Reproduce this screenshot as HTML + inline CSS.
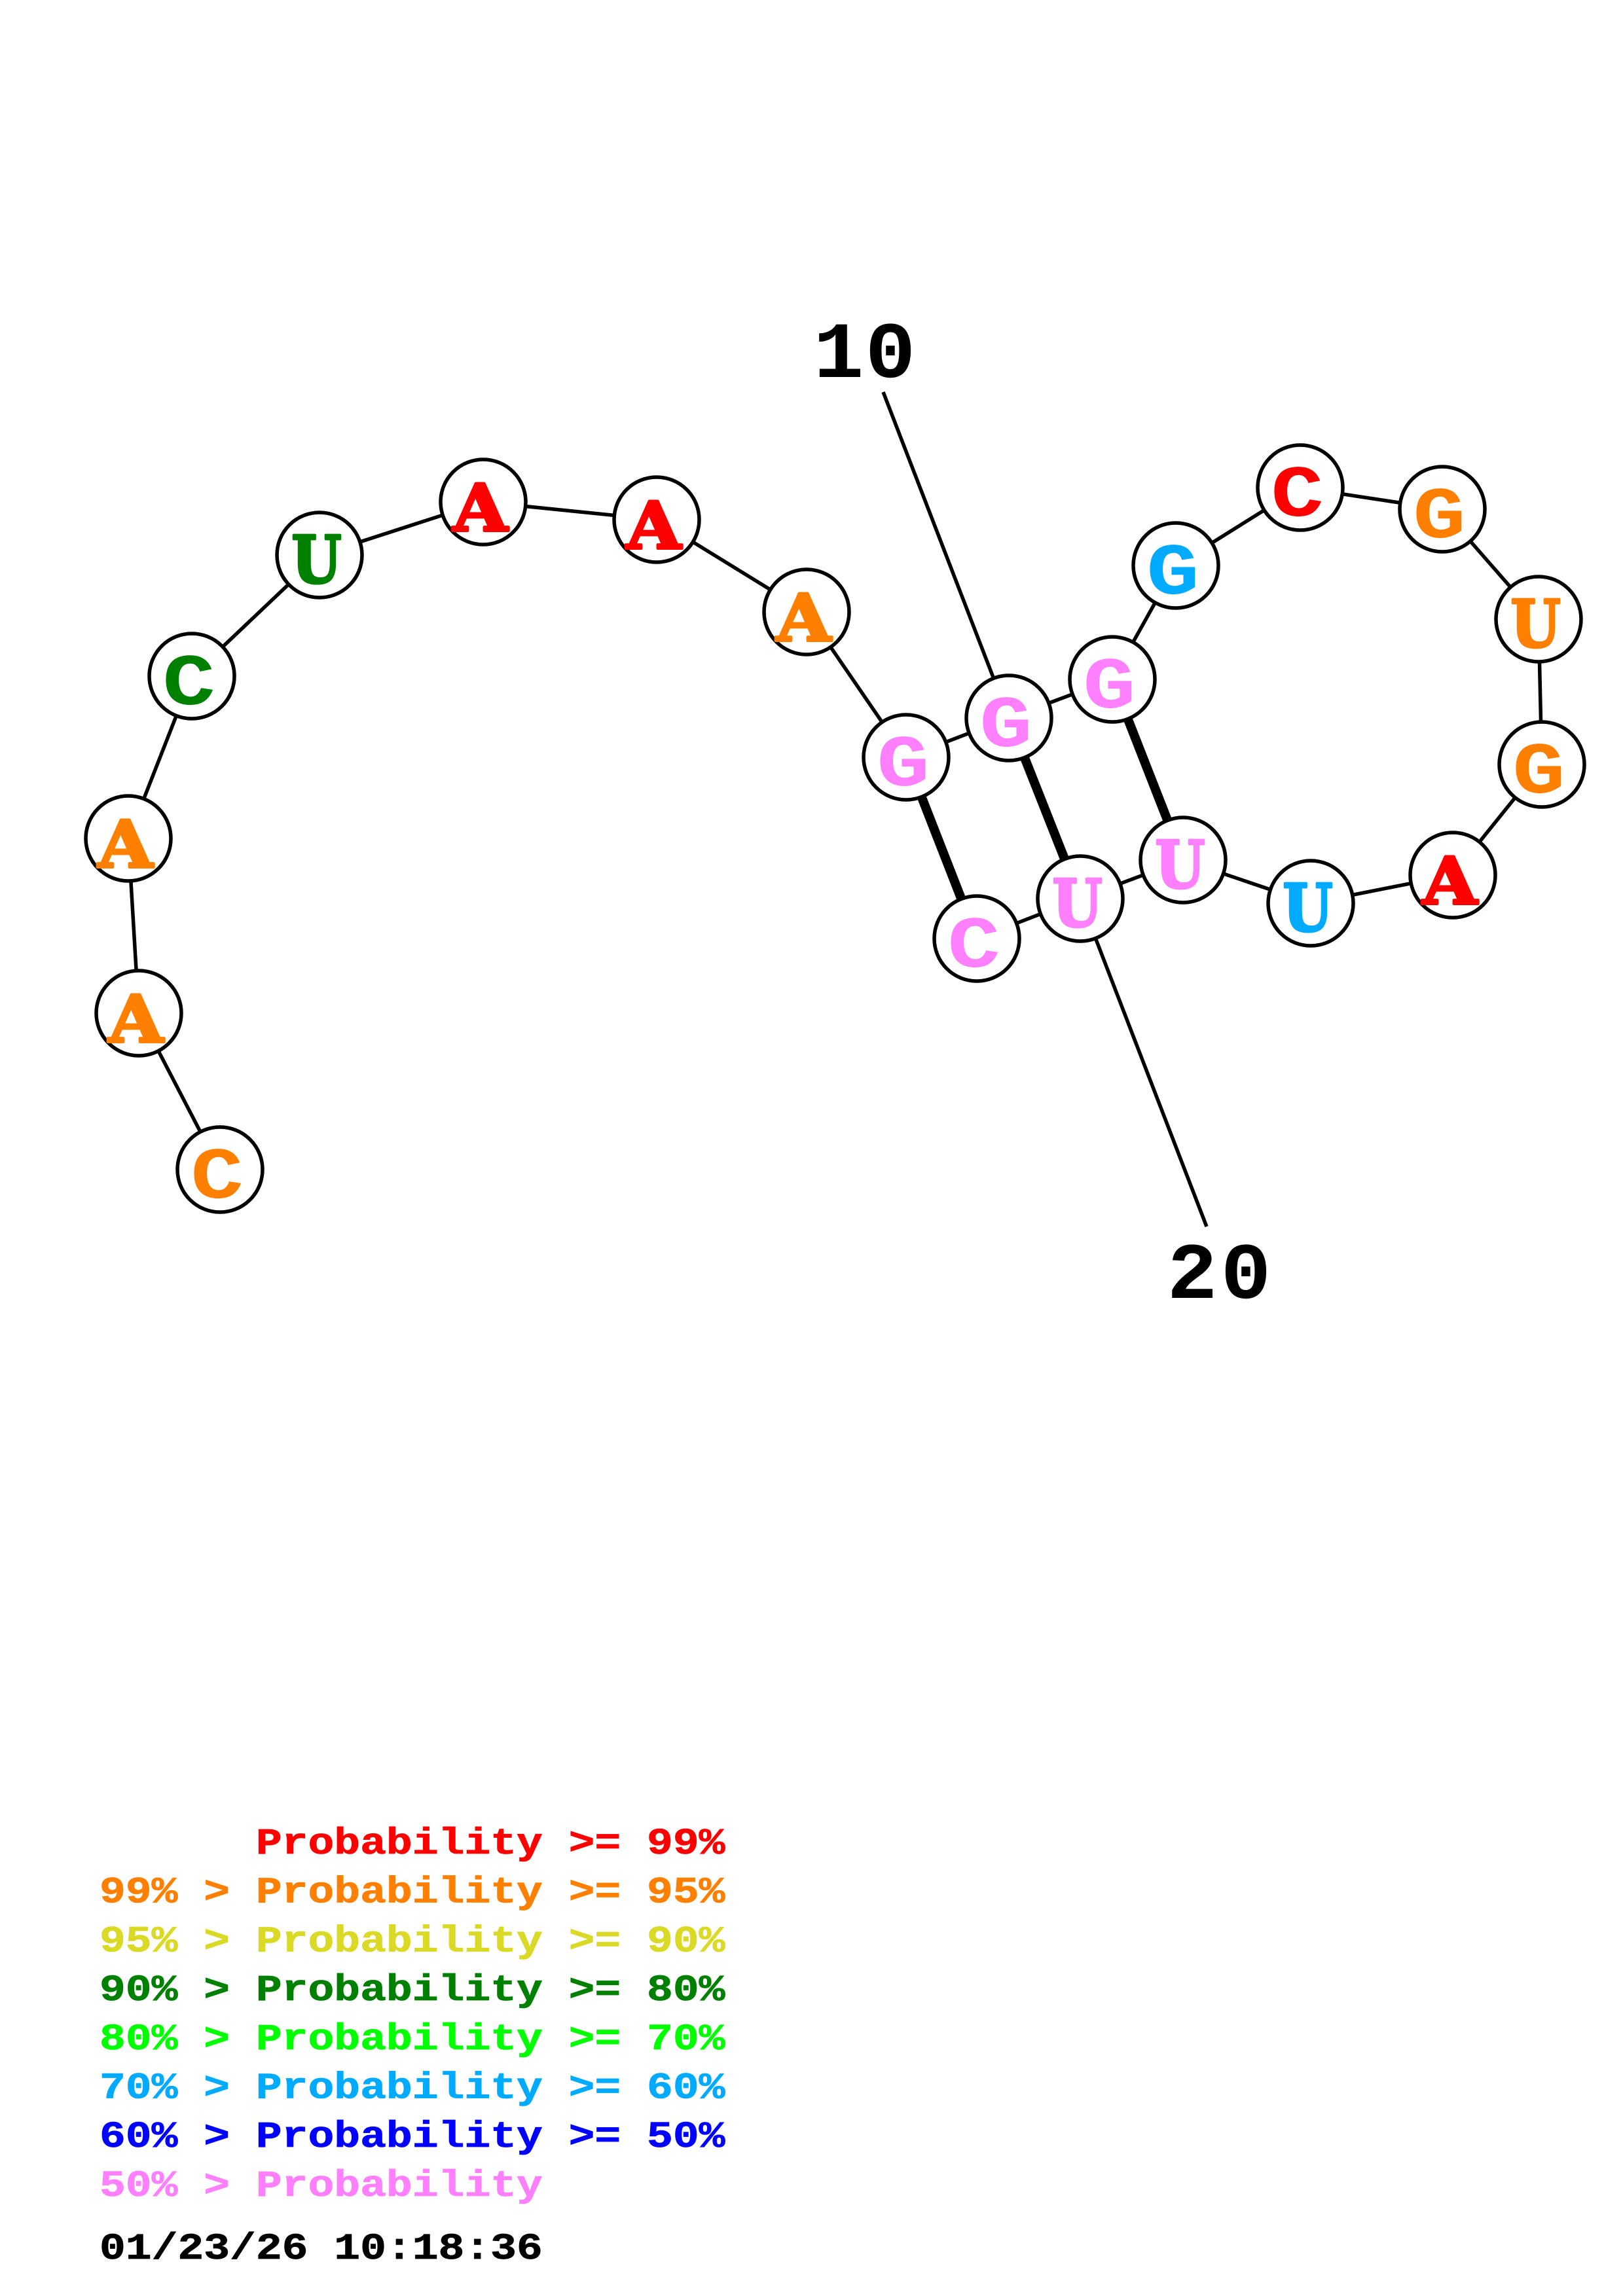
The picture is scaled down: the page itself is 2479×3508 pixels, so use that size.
<!DOCTYPE html>
<html><head><meta charset="utf-8"><style>
html,body{margin:0;padding:0;background:#fff}
svg{display:block}
text{font-family:"Liberation Mono",monospace;font-weight:bold}
text.s{font-family:"DejaVu Serif",serif;font-size:99px;stroke-width:4px;stroke-linejoin:round}
text.a{stroke:currentColor}
</style></head><body>
<svg width="2479" height="3508" viewBox="0 0 2479 3508" xmlns="http://www.w3.org/2000/svg">
<rect width="2479" height="3508" fill="#fff"/>
<polyline fill="none" stroke="#000" stroke-width="5.5" points="336,1787 212,1548 196,1281 293,1033 488,848 738,767 1003,794 1232,935 1384,1157 1541,1097 1699,1038 1796,864 1986,745 2203,778 2350,946 2355,1168 2219,1337 2002,1380 1807,1314 1650,1373 1492,1434"/>
<g stroke="#000" stroke-width="14" fill="none">
<line x1="1384" y1="1157" x2="1492" y2="1434"/>
<line x1="1541" y1="1097" x2="1650" y2="1373"/>
<line x1="1699" y1="1038" x2="1807" y2="1314"/>
</g>
<g stroke="#000" stroke-width="5.5" fill="none">
<line x1="1349" y1="599" x2="1541" y2="1097"/>
<line x1="1650" y1="1373" x2="1843" y2="1874"/>
</g>
<g fill="#fff" stroke="#000" stroke-width="5.5">
<circle cx="336" cy="1787" r="65"/><circle cx="212" cy="1548" r="65"/><circle cx="196" cy="1281" r="65"/>
<circle cx="293" cy="1033" r="65"/><circle cx="488" cy="848" r="65"/><circle cx="738" cy="767" r="65"/>
<circle cx="1003" cy="794" r="65"/><circle cx="1232" cy="935" r="65"/><circle cx="1384" cy="1157" r="65"/>
<circle cx="1541" cy="1097" r="65"/><circle cx="1699" cy="1038" r="65"/><circle cx="1796" cy="864" r="65"/>
<circle cx="1986" cy="745" r="65"/><circle cx="2203" cy="778" r="65"/><circle cx="2350" cy="946" r="65"/>
<circle cx="2355" cy="1168" r="65"/><circle cx="2219" cy="1337" r="65"/><circle cx="2002" cy="1380" r="65"/>
<circle cx="1807" cy="1314" r="65"/><circle cx="1650" cy="1373" r="65"/><circle cx="1492" cy="1434" r="65"/>
</g>
<g font-size="112" text-anchor="middle">
<text transform="translate(331.5,1830) scale(1.2,1)" fill="#ff8000">C</text>
<text class="s a" transform="translate(207.5,1592) scale(1.09,1)" fill="#ff8000" color="#ff8000">A</text>
<text class="s a" transform="translate(191.5,1325) scale(1.09,1)" fill="#ff8000" color="#ff8000">A</text>
<text transform="translate(288.5,1076) scale(1.2,1)" fill="#008000">C</text>
<text class="s a" transform="translate(483.5,890) scale(0.88,1)" fill="#008000" color="#008000">U</text>
<text class="s a" transform="translate(733.5,811) scale(1.09,1)" fill="#ff0000" color="#ff0000">A</text>
<text class="s a" transform="translate(998.5,838) scale(1.09,1)" fill="#ff0000" color="#ff0000">A</text>
<text class="s a" transform="translate(1227.5,979) scale(1.09,1)" fill="#ff8000" color="#ff8000">A</text>
<text transform="translate(1379.5,1200) scale(1.2,1)" fill="#ff80ff">G</text>
<text transform="translate(1536.5,1140) scale(1.2,1)" fill="#ff80ff">G</text>
<text transform="translate(1694.5,1081) scale(1.2,1)" fill="#ff80ff">G</text>
<text transform="translate(1791.5,907) scale(1.2,1)" fill="#00aaff">G</text>
<text transform="translate(1981.5,788) scale(1.2,1)" fill="#ff0000">C</text>
<text transform="translate(2198.5,821) scale(1.2,1)" fill="#ff8000">G</text>
<text class="s a" transform="translate(2345.5,988) scale(0.88,1)" fill="#ff8000" color="#ff8000">U</text>
<text transform="translate(2350.5,1211) scale(1.2,1)" fill="#ff8000">G</text>
<text class="s a" transform="translate(2214.5,1381) scale(1.09,1)" fill="#ff0000" color="#ff0000">A</text>
<text class="s a" transform="translate(1997.5,1422) scale(0.88,1)" fill="#00aaff" color="#00aaff">U</text>
<text class="s a" transform="translate(1802.5,1356) scale(0.88,1)" fill="#ff80ff" color="#ff80ff">U</text>
<text class="s a" transform="translate(1645.5,1415) scale(0.88,1)" fill="#ff80ff" color="#ff80ff">U</text>
<text transform="translate(1487.5,1477) scale(1.2,1)" fill="#ff80ff">C</text>
</g>
<g font-size="122" fill="#000" text-anchor="middle">
<text transform="translate(1281,576) scale(1.05,1)">1</text><text transform="translate(1360,576) scale(1.05,1)">0</text>
<text transform="translate(1821,1983) scale(1.05,1)">2</text><text transform="translate(1903,1983) scale(1.05,1)">0</text>
</g>
<g font-size="57" stroke-width="0.8">
<text transform="translate(152,2832) scale(1.164,1)" fill="#ff0000" stroke="#ff0000" xml:space="preserve">      Probability &gt;= 99%</text>
<text transform="translate(152,2906.7) scale(1.164,1)" fill="#ff8000" stroke="#ff8000" xml:space="preserve">99% &gt; Probability &gt;= 95%</text>
<text transform="translate(152,2981.4) scale(1.164,1)" fill="#d9d926" stroke="#d9d926" xml:space="preserve">95% &gt; Probability &gt;= 90%</text>
<text transform="translate(152,3056.1) scale(1.164,1)" fill="#008000" stroke="#008000" xml:space="preserve">90% &gt; Probability &gt;= 80%</text>
<text transform="translate(152,3130.8) scale(1.164,1)" fill="#00ff00" stroke="#00ff00" xml:space="preserve">80% &gt; Probability &gt;= 70%</text>
<text transform="translate(152,3205.5) scale(1.164,1)" fill="#00aaff" stroke="#00aaff" xml:space="preserve">70% &gt; Probability &gt;= 60%</text>
<text transform="translate(152,3280.2) scale(1.164,1)" fill="#0000ff" stroke="#0000ff" xml:space="preserve">60% &gt; Probability &gt;= 50%</text>
<text transform="translate(152,3354.9) scale(1.164,1)" fill="#ff80ff" stroke="#ff80ff" xml:space="preserve">50% &gt; Probability</text>
<text transform="translate(152,3451) scale(1.164,1)" fill="#000" stroke="#000" xml:space="preserve">01/23/26 10:18:36</text>
</g>
</svg>
</body></html>
